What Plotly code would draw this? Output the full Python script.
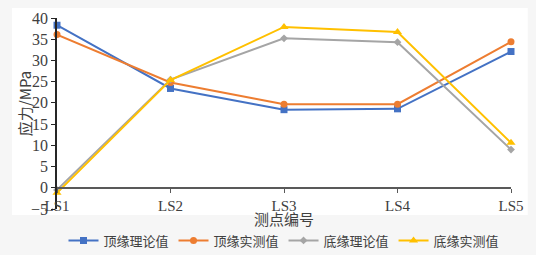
import plotly.graph_objects as go

categories = ["LS1", "LS2", "LS3", "LS4", "LS5"]
series_names = ["顶缘理论值", "顶缘实测值", "底缘理论值", "底缘实测值"]
top_theory = [38.3, 23.4, 18.4, 18.6, 32.1]
top_measured = [36.1, 24.8, 19.7, 19.7, 34.4]
bottom_theory = [-0.5, 25.5, 35.2, 34.3, 9.0]
bottom_measured = [-1.2, 25.4, 37.9, 36.7, 10.6]
y_ticks = [-5, 0, 5, 10, 15, 20, 25, 30, 35, 40]
y_tick_text = ["−5", "0", "5", "10", "15", "20", "25", "30", "35", "40"]

colors = ["#4472C4", "#ED7D31", "#A5A5A5", "#FFC000"]
symbols = ["square", "circle", "diamond", "triangle-up"]
sizes = [7, 7, 6, 8]
values = [top_theory, top_measured, bottom_theory, bottom_measured]

SERIF = "Liberation Serif"
CJK = "Noto Sans CJK SC"
x_idx = list(range(len(categories)))

fig = go.Figure()
for name, vals, c, s, sz in zip(series_names, values, colors, symbols, sizes):
    fig.add_trace(go.Scatter(
        x=x_idx, y=vals, name=name, mode="lines+markers",
        line=dict(color=c, width=2),
        marker=dict(symbol=s, size=sz, color=c),
        cliponaxis=False,
    ))

fig.update_layout(
    width=536, height=255,
    margin=dict(l=57, r=25, t=18, b=46, autoexpand=False),
    paper_bgcolor="#f6f6f6",
    plot_bgcolor="rgba(0,0,0,0)",
    font=dict(family=SERIF, size=14, color="#404040"),
    showlegend=True,
    legend=dict(orientation="h", x=0.5, xanchor="center", y=-0.165, yanchor="middle",
                font=dict(size=13, family=CJK, color="#404040"),
                bgcolor="rgba(0,0,0,0)", itemwidth=30, tracegroupgap=0),
    shapes=[dict(type="rect", xref="paper", yref="paper",
                 x0=-0.099, x1=1.037, y0=-0.031, y1=1.052,
                 fillcolor="white", line=dict(width=0), layer="below")],
    annotations=[
        dict(text="测点编号", xref="paper", yref="paper", x=0.5, y=-0.05,
             xanchor="center", yanchor="middle", showarrow=False,
             font=dict(size=15, family=CJK, color="#404040")),
        dict(text="应力/MPa", xref="paper", yref="paper", x=-0.07, y=0.55,
             xanchor="center", yanchor="middle", showarrow=False, textangle=-90,
             font=dict(size=15, family=CJK, color="#404040")),
    ],
)

fig.update_xaxes(
    range=[0, 4], tickvals=x_idx, ticktext=categories,
    showgrid=False, zeroline=False, automargin=False,
    showline=True, linecolor="#595959", linewidth=2,
    ticks="outside", ticklen=4, tickcolor="#595959",
    anchor="free", position=5 / 45,
    tickfont=dict(size=15, family=SERIF, color="#404040"),
)
fig.update_yaxes(
    range=[-5, 40], tickvals=y_ticks, ticktext=y_tick_text,
    showgrid=False, zeroline=False, automargin=False,
    showline=True, linecolor="#262626", linewidth=1.5,
    ticks="outside", ticklen=4, tickcolor="#262626",
    tickfont=dict(size=16, family=SERIF, color="#404040"),
)

fig.write_html("out.html", config={"displayModeBar": False})

with open("out.html", "r", encoding="utf-8") as f:
    html = f.read()
html = html.replace("<head>", "<head><style>html,body{margin:0;padding:0;overflow:hidden;}</style>", 1)
with open("out.html", "w", encoding="utf-8") as f:
    f.write(html)
